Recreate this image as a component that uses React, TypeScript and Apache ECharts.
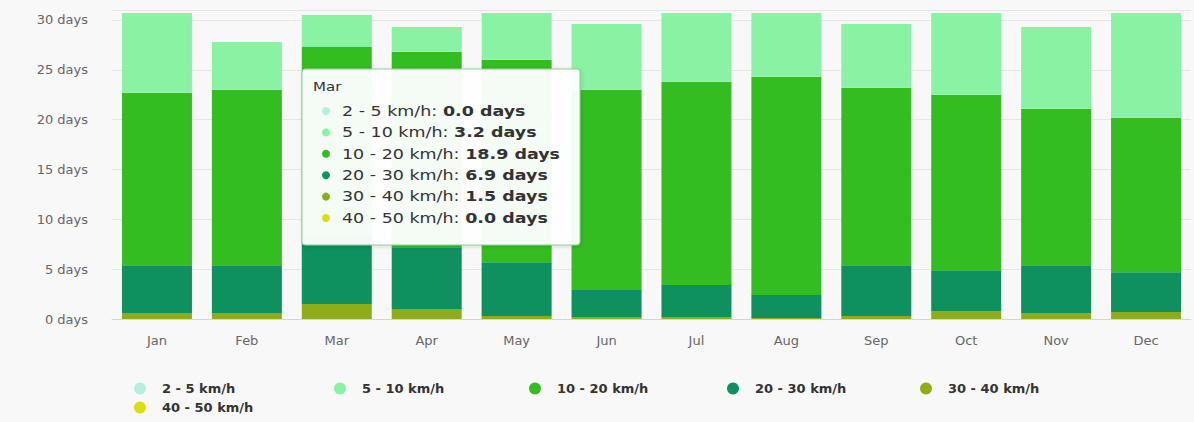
import React, { useEffect, useRef } from "react";
import * as echarts from "echarts";

const categories = ["Jan", "Feb", "Mar", "Apr", "May", "Jun", "Jul", "Aug", "Sep", "Oct", "Nov", "Dec"];
const seriesNames = ["2 - 5 km/h", "5 - 10 km/h", "10 - 20 km/h", "20 - 30 km/h", "30 - 40 km/h", "40 - 50 km/h"];
const seriesColors = ["#b4efe0", "#8af3a3", "#34bd21", "#0e915e", "#8fad17", "#dedc12"];
const s2to5 = [0, 0, 0, 0, 0, 0, 0, 0, 0, 0, 0, 0];
const s5to10 = [8.0, 4.8, 3.2, 2.5, 4.7, 6.6, 6.9, 6.4, 6.4, 8.2, 8.2, 10.5];
const s10to20 = [17.3, 17.6, 18.9, 19.6, 20.3, 20.1, 20.4, 21.9, 17.8, 17.6, 15.7, 15.5];
const s20to30 = [4.8, 4.8, 6.9, 6.2, 5.4, 2.7, 3.2, 2.3, 5.1, 4.1, 4.8, 4.0];
const s30to40 = [0.6, 0.6, 1.5, 1.0, 0.3, 0.2, 0.2, 0.1, 0.3, 0.8, 0.6, 0.7];
const s40to50 = [0, 0, 0, 0, 0, 0, 0, 0, 0, 0, 0, 0];
const yTicks = [0, 5, 10, 15, 20, 25, 30];
const unit = "days";
const tooltipIndex = 2;

const FONT = "DejaVu Sans";

export default function App() {
  const ref = useRef<HTMLDivElement>(null);
  useEffect(() => {
    if (!ref.current) return;
    const chart = echarts.init(ref.current, null, { renderer: "svg" });
    const values = [s2to5, s5to10, s10to20, s20to30, s30to40, s40to50];
    // stack bottom-up: 40-50 first
    const order = [5, 4, 3, 2, 1, 0];
    const series = order.map((i) => ({
      name: seriesNames[i],
      type: "bar",
      stack: "total",
      barWidth: 70,
      data: values[i],
      itemStyle: { color: seriesColors[i] },
      emphasis: { disabled: true },
    }));

    const legendPos = [
      { left: 134, top: 382 },
      { left: 334, top: 382 },
      { left: 529, top: 382 },
      { left: 727, top: 382 },
      { left: 920, top: 382 },
      { left: 134, top: 401 },
    ];
    const legends = seriesNames.map((n, i) => ({
      data: [n],
      left: legendPos[i].left,
      top: legendPos[i].top,
      orient: "horizontal",
      icon: "circle",
      itemWidth: 12,
      itemHeight: 12,
      padding: 0,
      selectedMode: false,
      textStyle: { fontFamily: FONT, fontSize: 13, fontWeight: "bold", color: "#333", padding: [0, 0, 0, 11] },
    }));

    const rowY0 = 111;
    const rowStep = 21.4;
    const Z = 200;
    const SX = 1.25;
    const tipChildren: any[] = [
      {
        type: "rect",
        z: Z,
        shape: { x: 302, y: 69, width: 278, height: 176, r: 3 },
        style: { fill: "rgba(255,255,255,0.95)", stroke: "#8ccf9a", lineWidth: 1, shadowBlur: 4, shadowColor: "rgba(0,0,0,0.15)", shadowOffsetX: 1, shadowOffsetY: 1 },
      },
      {
        type: "text",
        z: Z + 1,
        x: 313,
        y: 87,
        scaleX: SX,
        style: { text: categories[tooltipIndex], fontFamily: FONT, fontSize: 12, fill: "#333", verticalAlign: "middle" },
      },
    ];
    seriesNames.forEach((n, i) => {
      const y = rowY0 + i * rowStep;
      tipChildren.push({
        type: "circle",
        z: Z + 1,
        shape: { cx: 326, cy: y, r: 4 },
        style: { fill: seriesColors[i] },
      });
      tipChildren.push({
        type: "text",
        z: Z + 1,
        x: 342,
        y,
        scaleX: SX,
        style: {
          text: `{l|${n}: }{v|${values[i][tooltipIndex].toFixed(1)} ${unit}}`,
          verticalAlign: "middle",
          rich: {
            l: { fontFamily: FONT, fontSize: 14, fill: "#333" },
            v: { fontFamily: FONT, fontSize: 14, fontWeight: "bold", fill: "#333" },
          },
        },
      });
    });

    chart.setOption({
      animation: false,
      backgroundColor: "#f8f8f8",
      grid: { left: 112, right: 3, top: 10, bottom: 103 },
      xAxis: {
        type: "category",
        data: categories,
        axisTick: { show: false },
        axisLine: { show: true, lineStyle: { color: "#ccd6eb" } },
        axisLabel: { color: "#666", fontFamily: FONT, fontSize: 13, margin: 15 },
      },
      yAxis: {
        type: "value",
        min: 0,
        max: 31,
        interval: 5,
        axisLabel: {
          color: "#666",
          fontFamily: FONT,
          fontSize: 13,
          margin: 24,
          formatter: (v: number) => (yTicks.includes(v) ? `${v} ${unit}` : ""),
        },
        splitLine: { lineStyle: { color: "#e6e6e6" } },
        axisLine: { show: false },
      },
      legend: legends,
      series,
      graphic: { elements: [{ type: "group", z: Z, children: tipChildren }] },
    });
    return () => chart.dispose();
  }, []);
  return <div ref={ref} style={{ position: "fixed", left: 0, top: 0, width: 1194, height: 422 }} />;
}
